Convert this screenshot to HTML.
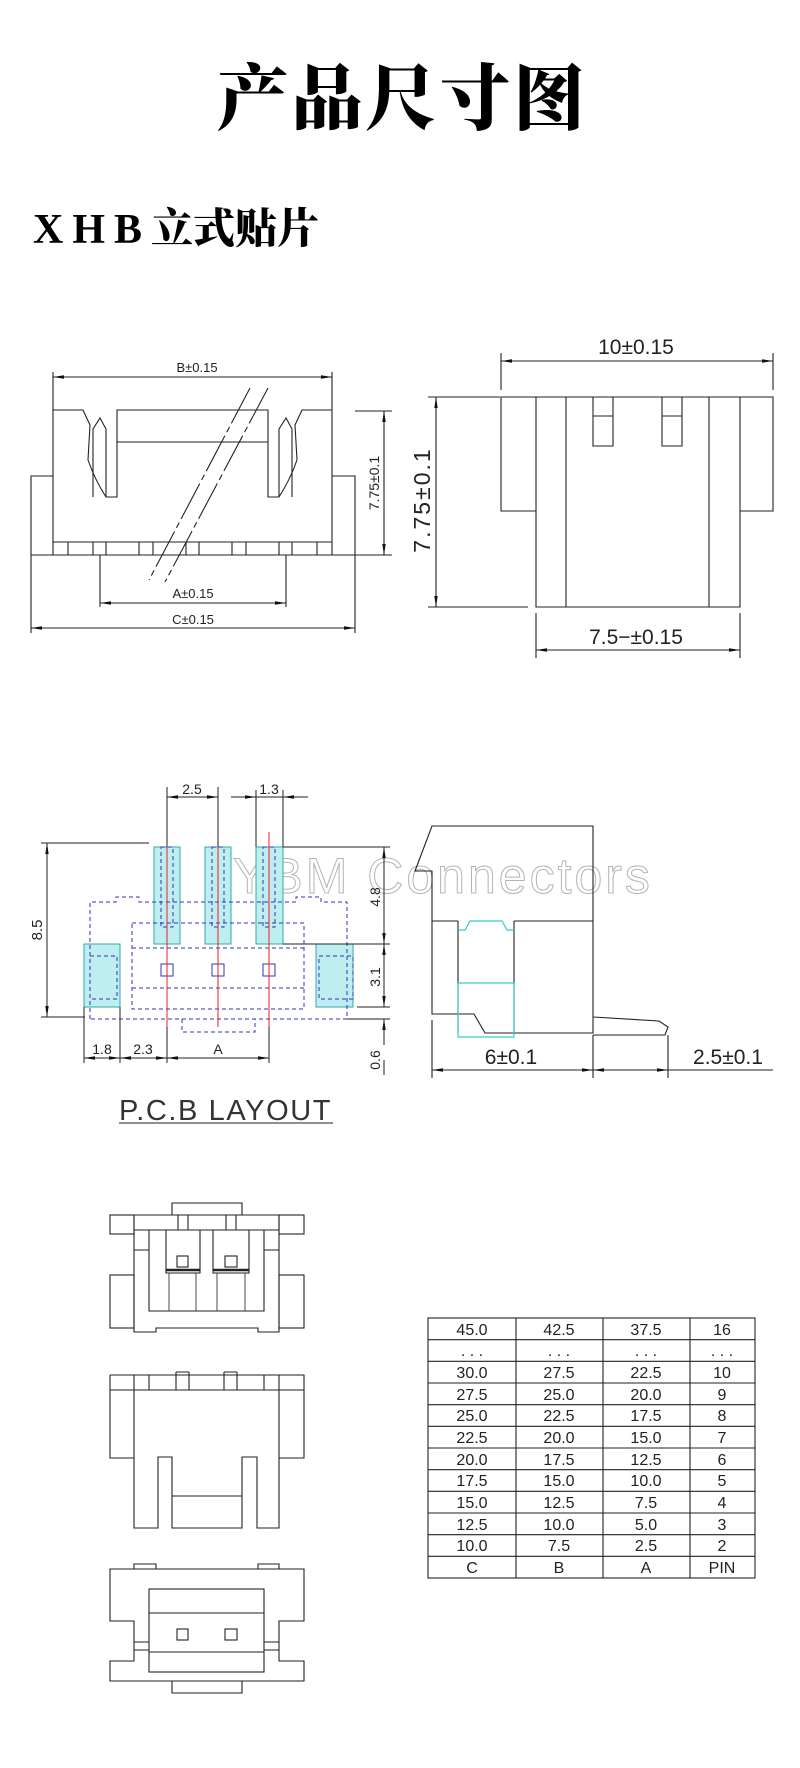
<!DOCTYPE html>
<html><head><meta charset="utf-8"><style>
html,body{margin:0;padding:0;background:#fff;}
svg{display:block}
.t{font-family:"Liberation Sans",sans-serif;fill:#222;}
</style></head><body>
<svg width="800" height="1768" viewBox="0 0 800 1768" xmlns="http://www.w3.org/2000/svg">
<defs>
<marker id="a" markerWidth="12" markerHeight="6" refX="11" refY="3" orient="auto-start-reverse" markerUnits="userSpaceOnUse"><path d="M0,1.3 L11,3 L0,4.7 Z" fill="#111"/></marker>
</defs>
<text x="402" y="124" text-anchor="middle" font-family="'Noto Serif CJK SC',serif" font-weight="900" font-size="72" letter-spacing="2" fill="#000">产品尺寸图</text>
<text x="33" y="243" font-family="'Liberation Serif','Noto Serif CJK SC',serif" font-weight="900" font-size="42" fill="#000"><tspan letter-spacing="9">XHB</tspan><tspan>立式贴片</tspan></text>

<g stroke="#222" stroke-width="1.1" fill="none">
<path d="M53,555 V410 H83 L90,425 L88,460 Q95,480 106,497 H117 V410 H268 V497 H279 Q290,480 297,460 L295,425 L302,410 H332 V555"/>
<path d="M93,497 V429 L100,418 L106,429 V497"/>
<path d="M279,497 V429 L286,418 L292,429 V497"/>
<path d="M117,442 H268"/>
<path d="M31,555 V476 H53 M332,476 H355 V555 M31,555 H355 M53,542 H332"/>
<path d="M68,542V555M93,542V555M106,542V555M139,542V555M153,542V555M186,542V555M199,542V555M232,542V555M246,542V555M279,542V555M292,542V555M317,542V555"/>
<path d="M250,388 L149,580 M268,388 L165,582" stroke-dasharray="40,4,6,4"/>
<path d="M53,372V410 M332,372V410"/>
<path d="M53,377H332" marker-start="url(#a)" marker-end="url(#a)"/>
<path d="M355,411H392 M355,555H392"/>
<path d="M384,411V555" marker-start="url(#a)" marker-end="url(#a)"/>
<path d="M100,555V607 M286,555V607 M31,555V633 M355,555V633"/>
<path d="M100,603H286" marker-start="url(#a)" marker-end="url(#a)"/>
<path d="M31,628H355" marker-start="url(#a)" marker-end="url(#a)"/>
<path d="M501,397 H773 V511 H740 V607 H536 V511 H501 Z M536,397 V511 M740,397 V511 M566,397V607 M709,397V607"/>
<path d="M593,397V446H613V397 M593,416H613 M662,397V446H682V397 M662,416H682"/>
<path d="M501,353V390 M773,353V390"/>
<path d="M501,361H773" marker-start="url(#a)" marker-end="url(#a)"/>
<path d="M428,397H500 M428,607H528"/>
<path d="M436,397V607" marker-start="url(#a)" marker-end="url(#a)"/>
<path d="M536,613V658 M740,613V658"/>
<path d="M536,650H740" marker-start="url(#a)" marker-end="url(#a)"/>
</g>
<g class="t" font-size="13">
<text x="197" y="372" text-anchor="middle">B±0.15</text>
<text x="193" y="598" text-anchor="middle">A±0.15</text>
<text x="193" y="624" text-anchor="middle">C±0.15</text>
<text transform="translate(379,483) rotate(-90)" text-anchor="middle" font-size="14">7.75±0.1</text>
<text x="636" y="354" text-anchor="middle" font-size="21">10±0.15</text>
<text x="636" y="644" text-anchor="middle" font-size="21">7.5−±0.15</text>
<text transform="translate(430,500) rotate(-90)" text-anchor="middle" font-size="23" letter-spacing="2">7.75±0.1</text>
</g>

<text x="233" y="893" font-family="'Liberation Sans',sans-serif" font-size="50" letter-spacing="3" fill="#fff" stroke="#b4b4b4" stroke-width="1">YBM Connectors</text>
<g fill="#bfeef0" stroke="#3aa" stroke-width="1">
<rect x="154" y="847" width="26" height="97"/>
<rect x="205" y="847" width="26" height="97"/>
<rect x="256" y="847" width="27" height="97"/>
<rect x="84" y="944" width="36" height="63"/>
<rect x="316" y="944" width="37" height="63"/>
</g>
<g stroke="#33b" stroke-width="1" fill="none" stroke-dasharray="4,3">
<path d="M90,1019 V902 H116 V897 H139 V902 H296 V897 H321 V902 H347 V1019 Z"/>
<rect x="132" y="923" width="172" height="86"/>
<path d="M132,948H304 M132,988H304"/>
<path d="M182,1019V1032H255V1019"/>
<rect x="90" y="956" width="27" height="43"/>
<rect x="319" y="956" width="34" height="43"/>
<rect x="161" y="847" width="12" height="80"/><rect x="212" y="847" width="12" height="80"/><rect x="263" y="847" width="12" height="80"/>
</g>
<g stroke="#33b" stroke-width="1" fill="none">
<rect x="161" y="964" width="12" height="12"/><rect x="212" y="964" width="12" height="12"/><rect x="263" y="964" width="12" height="12"/>
</g>
<g stroke="#e22" stroke-width="1"><path d="M167,832V1027 M218,832V1027 M269,832V1027"/></g>
<g stroke="#222" stroke-width="1" fill="none">
<path d="M167,787V847 M218,787V847 M256,790V847 M283,790V847"/>
<path d="M167,797H218" marker-start="url(#a)" marker-end="url(#a)"/>
<path d="M231,797H256" marker-end="url(#a)"/>
<path d="M308,797H283" marker-end="url(#a)"/>
<path d="M256,797H283"/>
<path d="M41,843H149 M41,1017H85"/>
<path d="M47,843V1017" marker-start="url(#a)" marker-end="url(#a)"/>
<path d="M283,847H390 M283,944H390 M357,1007H390 M347,1019H390"/>
<path d="M384,847V944" marker-start="url(#a)" marker-end="url(#a)"/>
<path d="M384,944V1007" marker-start="url(#a)" marker-end="url(#a)"/>
<path d="M384,1045V1019" marker-end="url(#a)"/>
<path d="M384,1075V1060"/>
<path d="M84,1007V1063 M120,1007V1063 M167,1027V1063 M269,1027V1063"/>
<path d="M84,1058H120" marker-start="url(#a)" marker-end="url(#a)"/>
<path d="M120,1058H167" marker-start="url(#a)" marker-end="url(#a)"/>
<path d="M167,1058H269" marker-start="url(#a)" marker-end="url(#a)"/>
<path d="M119,1123H333"/>
</g>
<g class="t" font-size="14">
<text x="192" y="794" text-anchor="middle">2.5</text>
<text x="269" y="794" text-anchor="middle">1.3</text>
<text transform="translate(42,930) rotate(-90)" text-anchor="middle" font-size="15">8.5</text>
<text transform="translate(380,897) rotate(-90)" text-anchor="middle">4.8</text>
<text transform="translate(380,977) rotate(-90)" text-anchor="middle">3.1</text>
<text transform="translate(380,1060) rotate(-90)" text-anchor="middle">0.6</text>
<text x="102" y="1054" text-anchor="middle">1.8</text>
<text x="143" y="1054" text-anchor="middle">2.3</text>
<text x="218" y="1054" text-anchor="middle">A</text>
<text x="119" y="1120" font-size="29" letter-spacing="2.5" fill="#333" textLength="214">P.C.B LAYOUT</text>
</g>
<g stroke="#222" stroke-width="1.1" fill="none">
<path d="M432,1014 V871 H415 L432,826 H593 V1033 H485 L474,1014 Z"/>
<path d="M432,921 H458 M514,921 H593 M458,921 V1033 M514,921 V1033"/>
<path d="M458,983H514" stroke-dasharray="4,2"/>
<path d="M593,1017 L659,1021 L668,1027 L665,1035 L593,1035"/>
<path d="M432,1020V1078 M593,1035V1078 M668,1035V1078"/>
<path d="M432,1070H593" marker-start="url(#a)" marker-end="url(#a)"/>
<path d="M593,1070H668" marker-start="url(#a)" marker-end="url(#a)"/>
<path d="M668,1070H773"/>
</g>
<g stroke="#3cc" stroke-width="1.2" fill="none">
<path d="M458,930H465L470,921H502L507,930H514"/>
<rect x="458" y="983" width="56" height="54"/>
</g>
<g class="t" font-size="21">
<text x="511" y="1064" text-anchor="middle">6±0.1</text>
<text x="728" y="1064" text-anchor="middle">2.5±0.1</text>
</g>

<g stroke="#222" stroke-width="1.1" fill="none">
<rect x="110" y="1215" width="24" height="19"/><rect x="110" y="1275" width="24" height="53"/>
<rect x="279" y="1215" width="25" height="19"/><rect x="279" y="1275" width="25" height="53"/>
<path d="M134,1215 H279 V1332 H258 V1328 H156 V1332 H134 Z"/>
<path d="M172,1215 V1203 H242 V1215"/>
<path d="M134,1230H279 M178,1215V1230 M188,1215V1230 M226,1215V1230 M236,1215V1230"/>
<path d="M149,1230V1311H264V1230 M134,1250H149 M264,1250H279"/>
<path d="M166,1230V1273H200V1230 M213,1230V1273H249V1230"/>
<path d="M166,1270H200 M213,1270H249" stroke-width="2.5"/>
<rect x="177" y="1256" width="11" height="11"/><rect x="225" y="1256" width="12" height="11"/>
<path d="M169,1273V1311 M196,1273V1311 M217,1273V1311 M245,1273V1311" stroke-width="0.8"/>
<path d="M110,1375 H304 V1458 H279 M110,1375 V1458 H134 M110,1390H304"/>
<path d="M134,1375 V1528 H158 V1457 H172 V1528 H242 V1457 H257 V1528 H279 V1375"/>
<path d="M172,1496H242"/>
<path d="M149,1375V1390 M176,1372V1390 M189,1372V1390 M176,1372H189 M224,1372V1390 M237,1372V1390 M224,1372H237 M264,1375V1390"/>
<path d="M134,1569V1564H156V1569 M258,1569V1564H279V1569"/>
<path d="M110,1569 H304 V1621 H279 V1661 H304 V1681 H110 V1661 H134 V1621 H110 Z"/>
<path d="M172,1681V1693H242V1681"/>
<rect x="149" y="1589" width="115" height="83"/>
<path d="M149,1613H264 M149,1652H264 M134,1642H149 M134,1650H149 M264,1642H279 M264,1650H279"/>
<rect x="177" y="1629" width="11" height="11"/><rect x="225" y="1629" width="12" height="11"/>
</g>

<g stroke="#222" stroke-width="1.1" fill="none">
<rect x="428" y="1318" width="327" height="260"/>
<path d="M516,1318V1578 M603,1318V1578 M690,1318V1578"/>
<path d="M428,1339.7H755 M428,1361.3H755 M428,1383H755 M428,1404.7H755 M428,1426.3H755 M428,1448H755 M428,1469.7H755 M428,1491.3H755 M428,1513H755 M428,1534.7H755 M428,1556.3H755"/>
</g>
<g class="t" font-size="16" text-anchor="middle">
<g transform="translate(0,1335)"><text x="472">45.0</text><text x="559">42.5</text><text x="646">37.5</text><text x="722">16</text></g>
<g transform="translate(0,1356)"><text x="472">. . .</text><text x="559">. . .</text><text x="646">. . .</text><text x="722">. . .</text></g>
<g transform="translate(0,1378)"><text x="472">30.0</text><text x="559">27.5</text><text x="646">22.5</text><text x="722">10</text></g>
<g transform="translate(0,1400)"><text x="472">27.5</text><text x="559">25.0</text><text x="646">20.0</text><text x="722">9</text></g>
<g transform="translate(0,1421)"><text x="472">25.0</text><text x="559">22.5</text><text x="646">17.5</text><text x="722">8</text></g>
<g transform="translate(0,1443)"><text x="472">22.5</text><text x="559">20.0</text><text x="646">15.0</text><text x="722">7</text></g>
<g transform="translate(0,1465)"><text x="472">20.0</text><text x="559">17.5</text><text x="646">12.5</text><text x="722">6</text></g>
<g transform="translate(0,1486)"><text x="472">17.5</text><text x="559">15.0</text><text x="646">10.0</text><text x="722">5</text></g>
<g transform="translate(0,1508)"><text x="472">15.0</text><text x="559">12.5</text><text x="646">7.5</text><text x="722">4</text></g>
<g transform="translate(0,1530)"><text x="472">12.5</text><text x="559">10.0</text><text x="646">5.0</text><text x="722">3</text></g>
<g transform="translate(0,1551)"><text x="472">10.0</text><text x="559">7.5</text><text x="646">2.5</text><text x="722">2</text></g>
<g transform="translate(0,1573)"><text x="472">C</text><text x="559">B</text><text x="646">A</text><text x="722">PIN</text></g>
</g>
</svg>
</body></html>
